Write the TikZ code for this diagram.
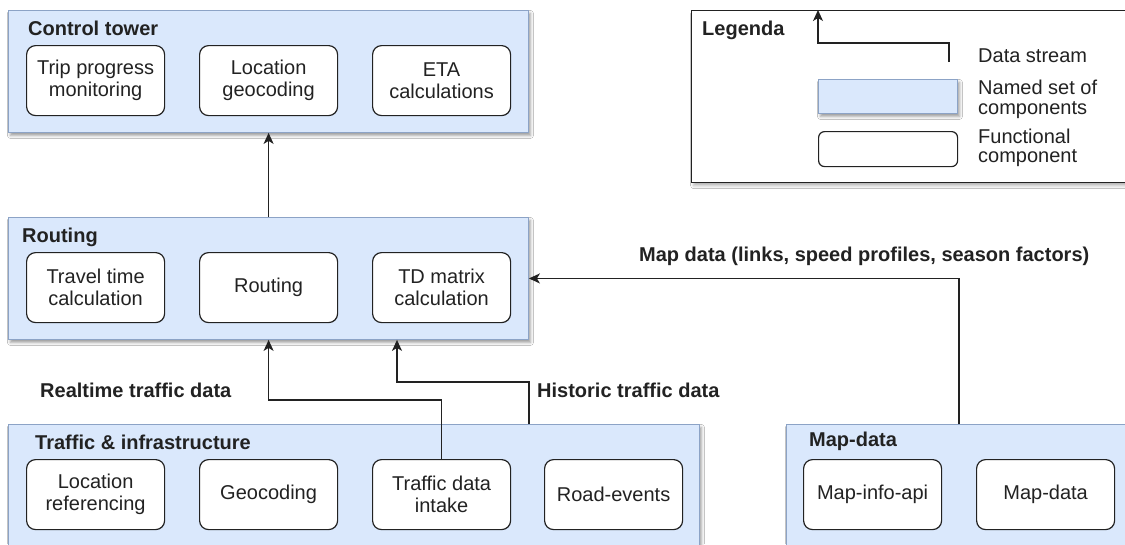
\documentclass[tikz,border=0pt]{standalone}
\usepackage{fontspec}
\setmainfont{Liberation Sans}
\usetikzlibrary{arrows.meta,shadows.blur,calc}
\definecolor{setfill}{HTML}{DAE8FC}
\definecolor{setline}{HTML}{8CA3C6}
\definecolor{ink}{HTML}{222222}

\tikzset{
  group/.style={draw=setline, line width=0.9pt, fill=setfill, anchor=north west, inner sep=0pt,
    blur shadow={shadow xshift=2pt, shadow yshift=-3pt, shadow blur radius=3pt, shadow opacity=40}},
  legendbox/.style={draw=ink, line width=1.3pt, fill=white, anchor=north west, inner sep=0pt,
    blur shadow={shadow xshift=2pt, shadow yshift=-3pt, shadow blur radius=3pt, shadow opacity=30}},
  comp/.style={draw=ink, line width=1.2pt, fill=white, rounded corners=9pt, anchor=north west,
    minimum width=138pt, minimum height=70pt, inner sep=0pt, align=center, text=ink,
    font=\fontsize{20}{22}\selectfont},
  title/.style={anchor=base west, inner sep=0pt, font=\bfseries\fontsize{20}{22}\selectfont, text=ink},
  note/.style={anchor=north west, inner sep=0pt, align=left, text=ink, font=\fontsize{20}{19.5}\selectfont},
  flow/.style={draw=ink, line width=1.3pt, -{Stealth[length=11pt,width=10pt,inset=3pt]}},
}

\begin{document}
\begin{tikzpicture}[x=1pt,y=-1pt]
\useasboundingbox (0,0) rectangle (1125,544);
\fill[white] (0,0) rectangle (1125,544);
\clip (0,0) rectangle (1125,544);

% Control tower
\node[group, minimum width=520pt, minimum height=122pt] (ct) at (8,10) {};
\node[title] (ctt) at (28,35) {Control tower};
\node[comp] (trip) at (26,45) {Trip progress\\monitoring};
\node[comp] (locg) at (199,45) {Location\\geocoding};
\node[comp] (eta) at (372,45) {ETA\\calculations};

% Routing
\node[group, minimum width=520pt, minimum height=122pt] (rt) at (8,217) {};
\node[title] (rtt) at (22,242) {Routing};
\node[comp] (ttc) at (26,252) {Travel time\\calculation};
\node[comp] (rtg) at (199,252) {Routing};
\node[comp] (tdm) at (372,252) {TD matrix\\calculation};

% Traffic & infrastructure
\node[group, minimum width=691pt, minimum height=150pt] (tr) at (8,424) {};
\node[title] (trt) at (35,449) {Traffic \& infrastructure};
\node[comp] (lref) at (26,459) {Location\\referencing};
\node[comp] (geo) at (199,459) {Geocoding};
\node[comp] (tdi) at (372,459) {Traffic data\\intake};
\node[comp] (rev) at (544,459) {Road-events};

% Map-data
\node[group, minimum width=380pt, minimum height=150pt] (md) at (786,424) {};
\node[title] (mdt) at (809,446) {Map-data};
\node[comp] (mia) at (803,459) {Map-info-api};
\node[comp] (mdd) at (976,459) {Map-data};

% Legend
\node[legendbox, minimum width=460pt, minimum height=172pt] (lg) at (691,10) {};
\node[title] (lgt) at (702,35) {Legenda};
\coordinate (lsrc) at (949,62);
\coordinate (ldst) at ($(lg.north west)+(127,0)$);
\draw[flow] (lsrc) -- ++(0,-19) -| (ldst);
\node[group, minimum width=139pt, minimum height=34pt] (lset) at (818,79) {};
\node[comp, rounded corners=6pt, minimum width=139pt, minimum height=35pt] (lcomp) at (818,131) {};
\node[note, anchor=base west] (lds) at (978,62) {Data stream};
\node[note] (lns) at (978,80) {Named set of\\components};
\node[note] (lfc) at (978,128.5) {Functional\\component};

% Data stream labels
\node[title] (rtl) at (40,397) {Realtime traffic data};
\node[title] (htl) at (537,397) {Historic traffic data};
\node[title] (mdl) at (639,261) {Map data (links, speed profiles, season factors)};

% Data streams
\draw[flow] (rtg.center |- rt.north) -- (rtg.center |- ct.south);
\draw[flow] (tdi.north) -- ++(0,-59) -| (rtg.center |- rt.south);
\coordinate (hin) at ($(tdm.south west |- rt.south)+(25,0)$);
\draw[flow] (rt.south east |- tr.north) -- ++(0,-42) -| (hin);
\coordinate (mgap) at ($(mia.east)!0.5!(mdd.west)$);
\draw[flow] (mgap |- md.north) |- (rt.east);
\end{tikzpicture}
\end{document}
